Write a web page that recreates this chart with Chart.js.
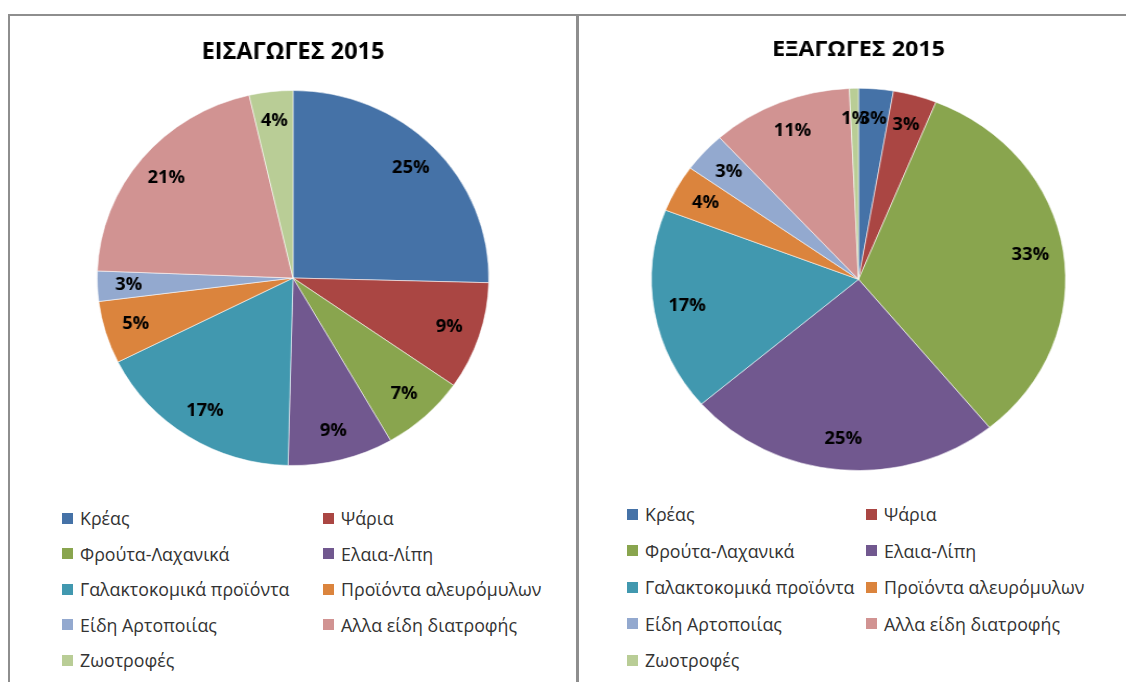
<!DOCTYPE html>
<html lang="el">
<head>
<meta charset="utf-8">
<title>Εισαγωγές - Εξαγωγές 2015</title>
<script src="https://cdn.jsdelivr.net/npm/chart.js@4/dist/chart.umd.min.js"></script>
<style>
  html, body {
    margin: 0;
    padding: 0;
    background: #fff;
  }
  body {
    position: relative;
    width: 1126px;
    height: 682px;
    overflow: hidden;
    font-family: "Open Sans", sans-serif;
  }
  .panel {
    position: absolute;
    top: 14px;
    height: 700px;
    border: 2px solid #8e8e8e;
    border-bottom: none;
  }
  #leftPanel { left: 8px; width: 566px; }
  #rightPanel { left: 577px; width: 600px; border-right: none; }
  canvas { position: absolute; left: 0; top: 0; }
  .legend { position: absolute; left: 0; top: 0; }
  .legend-item {
    position: absolute;
    display: flex;
    align-items: center;
    height: 24px;
    margin-top: -12px;
    font-size: 17.8px;
    color: #333;
    white-space: nowrap;
  }
  .legend-box {
    width: 11px;
    height: 11px;
    margin-right: 7px;
    flex: none;
  }
</style>
</head>
<body>
<div class="panel" id="leftPanel">
  <canvas id="importChart" width="542" height="452" style="width:566px;height:452px"></canvas>
</div>
<div class="panel" id="rightPanel">
  <canvas id="exportChart" width="504" height="457" style="width:546px;height:457px"></canvas>
</div>
<div class="legend" id="importLegend"></div>
<div class="legend" id="exportLegend"></div>
<script>
const IMPORT_TITLE = "ΕΙΣΑΓΩΓΕΣ 2015";
const EXPORT_TITLE = "ΕΞΑΓΩΓΕΣ 2015";

const CATEGORIES = [
  "Κρέας",
  "Ψάρια",
  "Φρούτα-Λαχανικά",
  "Ελαια-Λίπη",
  "Γαλακτοκομικά προϊόντα",
  "Προϊόντα αλευρόμυλων",
  "Είδη Αρτοποιίας",
  "Αλλα είδη διατροφής",
  "Ζωοτροφές",
];

// shares in %
const IMPORT_VALUES = [25.4, 9.3, 7.0, 8.7, 17.2, 5.4, 2.6, 20.8, 3.6];
const EXPORT_VALUES = [2.7, 3.4, 33.0, 24.6, 17.2, 4.0, 3.4, 11.0, 0.7];

const SLICE_COLORS = [
  "#4572a7",
  "#aa4643",
  "#89a54e",
  "#71588f",
  "#4198af",
  "#db843d",
  "#93a9cf",
  "#d19392",
  "#b9cd96",
];

const LABEL_RADIUS = 0.84;

Chart.defaults.font.family = "'Open Sans', sans-serif";

const percentLabelPlugin = {
  id: "percentLabels",
  afterDatasetsDraw(chart, _args, options) {
    const { ctx } = chart;
    const meta = chart.getDatasetMeta(0);
    const values = chart.data.datasets[0].data;
    const size = Number(options?.size ?? 17);

    ctx.save();
    ctx.fillStyle = "#000";
    ctx.font = `bold ${size}px 'Open Sans', sans-serif`;
    ctx.textAlign = "center";
    ctx.textBaseline = "middle";

    meta.data.forEach((arc, index) => {
      const { x, y, startAngle, endAngle, outerRadius } = arc.getProps(
        ["x", "y", "startAngle", "endAngle", "outerRadius"],
        true
      );
      const mid = (startAngle + endAngle) / 2;
      const r = outerRadius * LABEL_RADIUS;
      const text = `${Math.round(values[index])}%`;
      ctx.fillText(text, x + Math.cos(mid) * r, y + Math.sin(mid) * r);
    });

    ctx.restore();
  },
};

const buildPie = (canvasId, title, values, layout) =>
  new Chart(document.getElementById(canvasId), {
    type: "pie",
    data: {
      labels: CATEGORIES,
      datasets: [
        {
          data: values,
          backgroundColor: SLICE_COLORS,
          borderColor: "rgba(255,255,255,0.55)",
          borderWidth: 1,
        },
      ],
    },
    options: {
      responsive: false,
      animation: false,
      layout: { padding: layout.padding },
      plugins: {
        legend: { display: false },
        tooltip: { enabled: false },
        title: {
          display: true,
          text: title,
          color: "#000",
          font: { size: layout.titleSize, weight: "bold" },
          padding: layout.titlePadding,
        },
        percentLabels: { size: layout.labelSize },
      },
    },
    plugins: [percentLabelPlugin],
  });

// html legend in two columns, like the original sheet
const buildLegend = (chart, elementId, columns, top, step) => {
  const container = document.getElementById(elementId);
  const colors = chart.data.datasets[0].backgroundColor;

  chart.data.labels.forEach((label, index) => {
    const item = document.createElement("div");
    item.className = "legend-item";
    item.style.left = `${columns[index % 2]}px`;
    item.style.top = `${top + Math.floor(index / 2) * step}px`;

    const box = document.createElement("span");
    box.className = "legend-box";
    box.style.background = colors[index];

    const text = document.createElement("span");
    text.textContent = label;

    item.append(box, text);
    container.appendChild(item);
  });
};

const importChart = buildPie("importChart", IMPORT_TITLE, IMPORT_VALUES, {
  padding: { left: 0, right: 0, top: 0, bottom: 2 },
  titleSize: 22.5,
  titlePadding: { top: 23, bottom: 24 },
  labelSize: 17.5,
});

const exportChart = buildPie("exportChart", EXPORT_TITLE, EXPORT_VALUES, {
  padding: { left: 12, right: 0, top: 0, bottom: 2 },
  titleSize: 21.5,
  titlePadding: { top: 21, bottom: 25 },
  labelSize: 17,
});

buildLegend(importChart, "importLegend", [62, 323], 518, 35.5);
buildLegend(exportChart, "exportLegend", [627, 866], 514, 36.5);
</script>
</body>
</html>
